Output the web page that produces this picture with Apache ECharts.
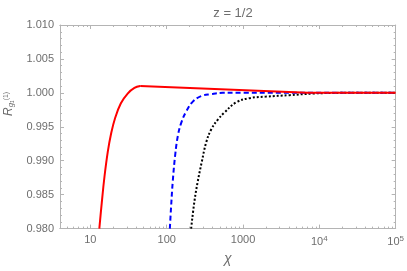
<!DOCTYPE html>
<html><head><meta charset="utf-8">
<script src="https://cdn.jsdelivr.net/npm/echarts@6/dist/echarts.min.js"></script>
<style>html,body{margin:0;padding:0;background:#fff}#c{width:407px;height:271px}</style>
</head><body><div id="c"></div>
<script>
// chi values and R values
const redX  = [13.1, 14.1, 15.3, 16.9, 18.7, 21.1, 25.1, 30.8, 37.8, 45, 7000, 100000];
const redY  = [0.980, 0.9838, 0.98764, 0.99130, 0.99400, 0.99630, 0.99846, 0.99990, 1.00072, 1.00100, 1.00002, 1.0000];
const redPeak = 9; // index of the corner in the red curve
const blueX = [110, 114, 120, 129, 140, 155, 180, 220, 282, 380, 543, 100000];
const blueY = [0.980, 0.98307, 0.98692, 0.99077, 0.99366, 0.99558, 0.99726, 0.99871, 0.99952, 0.99981, 1.0, 1.0];
const blackX = [209, 231, 255, 288, 329, 383, 468, 562, 813, 1216, 2000, 4070, 8220, 20000, 100000];
const blackY = [0.980, 0.98404, 0.98692, 0.98981, 0.99269, 0.99461, 0.99606, 0.99702, 0.99860, 0.99922, 0.99945, 0.99966, 0.9999, 1.0, 1.0];
const xMajor = [10, 100, 1000, 10000, 100000];
const xMinor = [5, 6, 7, 8, 9, 20, 30, 40, 50, 60, 70, 80, 90, 200, 300, 400, 500, 600, 700, 800, 900,
  2000, 3000, 4000, 5000, 6000, 7000, 8000, 9000, 20000, 30000, 40000, 50000, 60000, 70000, 80000, 90000];

const zip = (xs, ys) => xs.map((x, i) => [x, ys[i]]);
const redData = zip(redX, redY);
const frame = '#b4b4b4', txt = '#6e6e6e';
const xBase = {type: 'log', min: 4, max: 100000, gridIndex: 0, splitLine: {show: false},
  axisLine: {lineStyle: {color: frame, width: 1}}};
const xAxes = [
  Object.assign({}, xBase, {position: 'bottom', name: 'χ', nameLocation: 'middle', nameGap: 20,
    nameTextStyle: {fontStyle: 'italic', fontSize: 14, color: txt, fontFamily: 'Liberation Sans'},
    axisTick: {inside: true, length: 4, customValues: xMajor, lineStyle: {color: frame}},
    axisLabel: {customValues: xMajor, margin: 6, color: txt, fontSize: 11, fontFamily: 'Liberation Sans',
      formatter: v => v >= 10000 ? '10{s|' + Math.round(Math.log10(v)) + '}' : String(Math.round(v)),
      rich: {s: {fontSize: 8, verticalAlign: 'top', padding: [0, 0, 6, 0], color: txt}}}}),
  Object.assign({}, xBase, {position: 'bottom', axisLabel: {show: false},
    axisTick: {inside: true, length: 2, customValues: xMinor, lineStyle: {color: frame}}}),
  Object.assign({}, xBase, {position: 'top', axisLabel: {show: false},
    axisTick: {inside: true, length: 4, customValues: xMajor, lineStyle: {color: frame}}}),
  Object.assign({}, xBase, {position: 'top', axisLabel: {show: false},
    axisTick: {inside: true, length: 2, customValues: xMinor, lineStyle: {color: frame}}})
];
const yBase = {type: 'value', min: 0.980, max: 1.010, interval: 0.005, splitLine: {show: false},
  axisLine: {show: true, lineStyle: {color: frame}},
  axisTick: {inside: true, length: 4, lineStyle: {color: frame}},
  minorTick: {show: true, splitNumber: 5, length: 2, lineStyle: {color: frame}}};
const yAxes = [
  Object.assign({}, yBase, {position: 'left',
    axisLabel: {margin: 6, color: txt, fontSize: 11, fontFamily: 'Liberation Sans', formatter: v => v.toFixed(3)}}),
  Object.assign({}, yBase, {position: 'right', axisLabel: {show: false}})
];

const chart = echarts.init(document.getElementById('c'), null, {renderer: 'canvas'});
chart.setOption({
  animation: false,
  grid: {left: 60, right: 11, top: 25, bottom: 38},
  title: {text: 'z = 1/2', left: 228, top: 2, textAlign: 'center',
    textStyle: {fontSize: 13, fontWeight: 'normal', color: txt, fontFamily: 'Liberation Sans'}},
  graphic: [{type: 'text', x: 3, y: 116, rotation: Math.PI / 2,
    style: {text: '{r|R}{s|g₁}{p|(1)}', fill: txt, fontFamily: 'Liberation Sans',
      rich: {r: {fontSize: 12, fontStyle: 'italic', fill: txt},
             s: {fontSize: 8, fontStyle: 'italic', verticalAlign: 'bottom', fill: txt},
             p: {fontSize: 7, verticalAlign: 'top', fill: txt}}}}],
  xAxis: xAxes,
  yAxis: yAxes,
  series: [
    {type: 'line', data: zip(blackX, blackY), showSymbol: false, clip: true, smooth: 0.4,
      lineStyle: {color: '#000', width: 2, type: [2, 2]}},
    {type: 'line', data: zip(blueX, blueY), showSymbol: false, clip: true, smooth: 0.4,
      lineStyle: {color: '#0000ff', width: 2, type: [5, 3]}},
    {type: 'line', data: redData.slice(0, redPeak + 1), showSymbol: false, clip: true, smooth: 0.4,
      lineStyle: {color: '#ff0000', width: 2}},
    {type: 'line', data: redData.slice(redPeak), showSymbol: false, clip: true,
      lineStyle: {color: '#ff0000', width: 2}}
  ]
});
</script></body></html>
